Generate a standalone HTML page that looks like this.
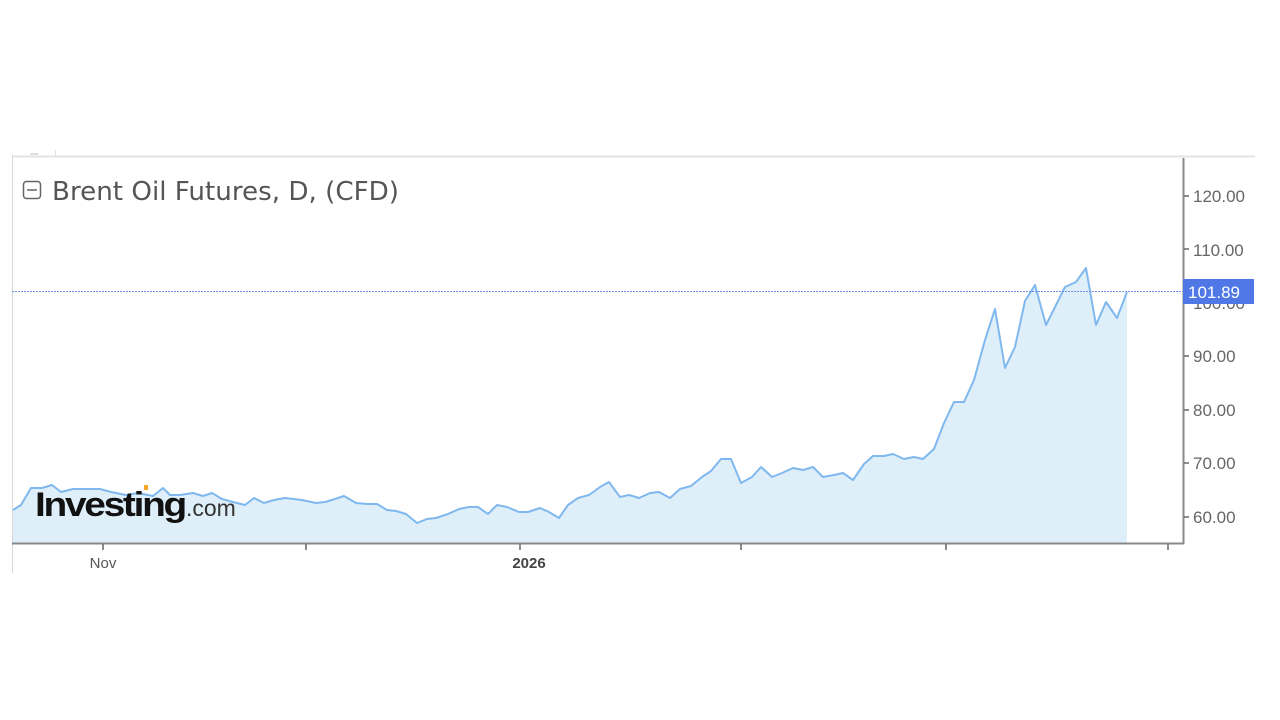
<!DOCTYPE html>
<html><head><meta charset="utf-8"><style>
html,body{margin:0;padding:0;background:#fff;width:1280px;height:720px;overflow:hidden}
svg{display:block}
</style></head><body>
<svg width="1280" height="720" viewBox="0 0 1280 720" xmlns="http://www.w3.org/2000/svg" font-family="Liberation Sans, sans-serif">
<rect width="1280" height="720" fill="#fff"/>
<line x1="12" y1="156.5" x2="1255" y2="156.5" stroke="#e3e3e8" stroke-width="2"/>
<line x1="12.5" y1="155" x2="12.5" y2="573" stroke="#d8d8d8" stroke-width="1"/>
<line x1="55.5" y1="150" x2="55.5" y2="156" stroke="#e0e0e0"/>
<rect x="30" y="153" width="8" height="2" fill="#ddd"/>
<g transform="translate(0,-2)">
<path fill="#dfeffa" d="M13,512 L21,507 L31,490 L42,490 L52,487 L61,494 L73,491 L100,491 L111,494 L126,497 L138,495 L153,498 L163,490 L170,497 L180,497 L193,495 L203,498 L212,495 L222,501 L233,504 L245,507 L254,500 L264,505 L274,502 L285,500 L302,502 L316,505 L325,504 L335,501 L344,498 L356,505 L367,506 L377,506 L387,512 L396,513 L406,516 L417,525 L427,521 L436,520 L448,516 L459,511 L469,509 L478,509 L488,516 L497,507 L507,509 L519,514 L528,514 L540,510 L549,514 L559,520 L568,507 L578,500 L589,497 L600,489 L609,484 L620,499 L629,497 L639,500 L650,495 L659,494 L670,500 L680,491 L691,488 L702,479 L711,473 L721,461 L731,461 L741,485 L752,479 L761,469 L772,479 L782,475 L793,470 L803,472 L813,469 L823,479 L834,477 L843,475 L853,482 L864,466 L873,458 L884,458 L893,456 L904,461 L914,459 L923,461 L934,451 L944,425 L954,404 L964,404 L974,382 L985,342 L995,311 L1005,370 L1015,349 L1025,303 L1035,287 L1046,327 L1055,309 L1065,289 L1076,284 L1086,270 L1096,327 L1106,304 L1117,320 L1127,294 L1127,545 L13,545 Z"/>
</g>
<polyline fill="none" stroke="#7fb8ee" stroke-width="2" stroke-linejoin="round" transform="translate(0,-2)" points="13,512 21,507 31,490 42,490 52,487 61,494 73,491 100,491 111,494 126,497 138,495 153,498 163,490 170,497 180,497 193,495 203,498 212,495 222,501 233,504 245,507 254,500 264,505 274,502 285,500 302,502 316,505 325,504 335,501 344,498 356,505 367,506 377,506 387,512 396,513 406,516 417,525 427,521 436,520 448,516 459,511 469,509 478,509 488,516 497,507 507,509 519,514 528,514 540,510 549,514 559,520 568,507 578,500 589,497 600,489 609,484 620,499 629,497 639,500 650,495 659,494 670,500 680,491 691,488 702,479 711,473 721,461 731,461 741,485 752,479 761,469 772,479 782,475 793,470 803,472 813,469 823,479 834,477 843,475 853,482 864,466 873,458 884,458 893,456 904,461 914,459 923,461 934,451 944,425 954,404 964,404 974,382 985,342 995,311 1005,370 1015,349 1025,303 1035,287 1046,327 1055,309 1065,289 1076,284 1086,270 1096,327 1106,304 1117,320 1127,294"/>
<line x1="12" y1="291.5" x2="1183" y2="291.5" stroke="#6f8fe8" stroke-width="1" stroke-dasharray="2,1"/>
<line x1="12" y1="543.5" x2="1184" y2="543.5" stroke="#888" stroke-width="2"/>
<line x1="1183.5" y1="158" x2="1183.5" y2="544" stroke="#888" stroke-width="2"/>
<g stroke="#666" stroke-width="1.5">
<line x1="103" y1="544" x2="103" y2="550"/><line x1="306" y1="544" x2="306" y2="550"/><line x1="520" y1="544" x2="520" y2="550"/><line x1="741" y1="544" x2="741" y2="550"/><line x1="946" y1="544" x2="946" y2="550"/><line x1="1168" y1="544" x2="1168" y2="550"/>
<line x1="1184" y1="196" x2="1189" y2="196"/><line x1="1184" y1="249" x2="1189" y2="249"/><line x1="1184" y1="303" x2="1189" y2="303"/><line x1="1184" y1="356" x2="1189" y2="356"/><line x1="1184" y1="410" x2="1189" y2="410"/><line x1="1184" y1="463" x2="1189" y2="463"/><line x1="1184" y1="517" x2="1189" y2="517"/>
</g>
<g font-size="17" fill="#666">
<text x="1193" y="202">120.00</text>
<text x="1193" y="256">110.00</text>
<text x="1193" y="309">100.00</text>
<text x="1193" y="362">90.00</text>
<text x="1193" y="416">80.00</text>
<text x="1193" y="469">70.00</text>
<text x="1193" y="523">60.00</text>
</g>
<rect x="1183" y="279" width="71" height="25" fill="#4f78e6"/>
<text x="1188" y="298" font-size="17" fill="#fff">101.89</text>
<text x="103" y="568" font-size="15" fill="#555" text-anchor="middle">Nov</text>
<text x="529" y="568" font-size="15" fill="#444" font-weight="bold" text-anchor="middle">2026</text>
<rect x="23.5" y="181.5" width="17" height="17" rx="3" fill="none" stroke="#666" stroke-width="1.5"/>
<line x1="27" y1="190" x2="37" y2="190" stroke="#666" stroke-width="1.5"/>
<text x="52" y="200" font-size="26" fill="#555" font-family="DejaVu Sans, sans-serif" textLength="347" lengthAdjust="spacingAndGlyphs">Brent Oil Futures, D, (CFD)</text>
<text x="35" y="516" font-size="34" font-weight="bold" fill="#111" letter-spacing="-2" textLength="150" lengthAdjust="spacingAndGlyphs">Investing</text>
<text x="186" y="516" font-size="23" fill="#333">.com</text>
<rect x="144" y="485" width="4" height="5" fill="#f5a623"/>
</svg>
</body></html>
